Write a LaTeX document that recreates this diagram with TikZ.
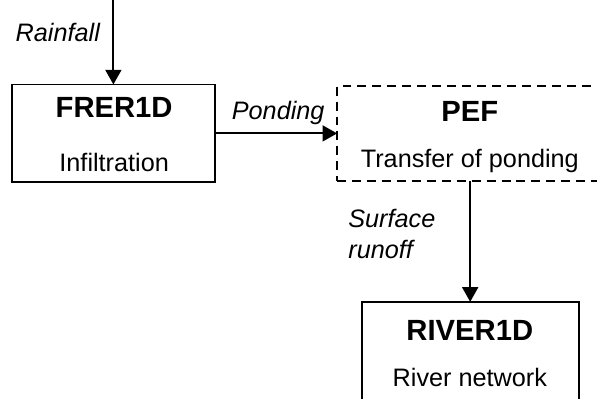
\documentclass[tikz,border=0pt]{standalone}
\usepackage{fontspec}
\setmainfont{Liberation Sans}
\usetikzlibrary{arrows.meta}

\tikzset{
  box/.style={draw, line width=1.4pt, inner sep=0pt, outer sep=0pt},
  dashbox/.style={box, dash pattern=on 6.75pt off 4.5pt},
  flow/.style={line width=1.4pt, -{Triangle[length=11pt,width=12pt]}},
  title/.style={font=\fontsize{22}{26}\selectfont\bfseries},
  sub/.style={font=\fontsize{19}{23}\selectfont},
  lbl/.style={font=\fontsize{19}{23}\selectfont\itshape}
}

\begin{document}
\begin{tikzpicture}
  \useasboundingbox (0,0) rectangle (15.795,10.53);
  \clip (0,0) rectangle (15.795,10.53);

  % kassar
  \node [box, minimum width=5.37cm, minimum height=2.59cm] (frer) at (3.00,7.00) {};
  \node [dashbox, minimum width=7.04cm, minimum height=2.51cm] (pef) at (12.44,7.00) {};
  \node [box, minimum width=5.74cm, minimum height=3.39cm] (river) at (12.44,0.85) {};

  % textar
  \node [title] (frert) at (3.02,7.70) {FRER1D};
  \node [sub] (frers) at (3.02,6.24) {Infiltration};
  \node [title] (peft) at (12.43,7.57) {PEF};
  \node [sub] (pefs) at (12.43,6.27) {Transfer of ponding};
  \node [title] (rivert) at (12.43,1.80) {RIVER1D};
  \node [sub] (rivers) at (12.43,0.53) {River network};

  % flæði
  \coordinate (rain) at (3.00,10.53);
  \draw [flow] (rain) -- (frer.north);
  \node [lbl] (rainl) at (1.53,9.68) {Rainfall};
  \draw [flow] (frer.east) -- (pef.west);
  \node [lbl] (pondl) at (7.36,7.54) {Ponding};
  \draw [flow] (pef.south) -- (river.north);
  \node [lbl, align=left, anchor=west, inner sep=0pt] (runl) at (9.21,4.34) {Surface\\runoff};
\end{tikzpicture}
\end{document}
